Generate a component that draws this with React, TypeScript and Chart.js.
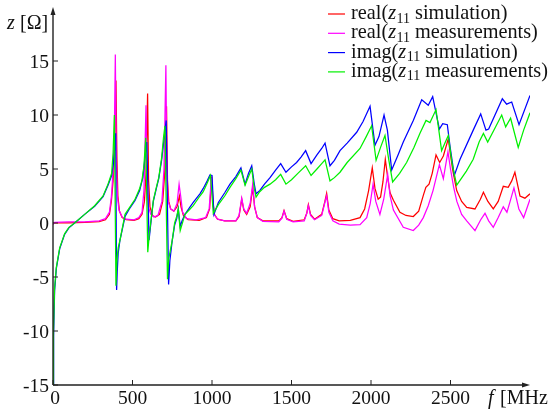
import React, { useEffect, useRef } from "react";
import { Chart, registerables } from "chart.js";

Chart.register(...registerables);

// ---- data (frequency in MHz, impedance in Ohm) ----
const realSimFreq = [0,100,200,290,330,355,367,378,388,396,402,408,418,435,460,510,540,560,575,585,595,601,610,625,645,670,690,702,714,720,728,740,760,780,795,805,820,850,920,965,985,998,1006,1015,1035,1080,1150,1170,1187,1200,1218,1240,1256,1268,1285,1320,1420,1440,1453,1470,1510,1580,1596,1606,1620,1645,1690,1710,1721,1735,1760,1800,1870,1931,1960,1985,2008,2025,2045,2060,2075,2090,2105,2120,2141,2182,2220,2266,2300,2330,2345,2365,2385,2409,2432,2455,2486,2500,2514,2539,2570,2602,2654,2688,2707,2735,2769,2800,2832,2863,2885,2905,2937,2968,3000];
const realSim = [0,0.02,0.05,0.12,0.3,0.8,2,3.9,6.5,13.2,6,2.5,1.1,0.5,0.3,0.25,0.4,0.8,2,4.5,12,4,1.5,0.7,0.55,0.8,2,4.5,10.8,4,2,1.3,1.1,1.5,2.5,1.5,0.7,0.3,0.25,0.5,1.3,4.3,2,0.8,0.35,0.2,0.2,0.6,2.2,1.2,0.8,1.5,3.3,1.5,0.5,0.2,0.2,0.5,1.15,0.4,0.15,0.3,0.9,1.7,0.8,0.35,0.8,2,2.75,1.2,0.4,0.2,0.25,0.5,1.3,3,5.1,3.2,2.2,2.4,3.8,5.9,4.2,2.8,2.1,1,0.7,0.6,1.1,2.6,3.3,3.6,4.6,6.3,5.6,6.2,7.8,6.3,4.9,3,2,1.45,1.3,2.2,2.85,2,1.3,2,3.4,3.3,3.9,4.7,2.5,2.3,2.7];

const realMeasFreq = [0,10,100,200,290,330,355,367,378,386,392,398,405,415,435,460,510,540,560,572,585,592,600,615,635,660,685,698,710,716,724,740,760,780,793,803,815,840,900,960,982,996,1004,1013,1035,1080,1150,1170,1187,1200,1218,1240,1256,1268,1285,1320,1420,1440,1453,1470,1510,1580,1596,1606,1620,1645,1690,1710,1721,1735,1760,1800,1870,1931,1973,1995,2013,2030,2056,2080,2105,2120,2141,2203,2266,2300,2329,2360,2390,2430,2455,2484,2500,2520,2540,2570,2602,2654,2690,2717,2740,2769,2800,2832,2855,2875,2899,2930,2960,3000];
const realMeas = [-0.15,0.05,0.1,0.1,0.2,0.4,1,2.4,4.8,8.5,15.6,6,2.5,1.2,0.55,0.35,0.3,0.5,1,3,10.9,3,1.5,0.8,0.55,0.7,2,5,14.6,5,2,1.3,1.1,1.8,3.6,2.5,1,0.4,0.3,0.5,1.3,4.2,2.3,0.8,0.35,0.2,0.2,0.7,2.3,1.3,0.9,1.8,3.6,1.5,0.5,0.15,0.1,0.45,1.1,0.35,0.1,0.2,0.9,1.6,0.7,0.3,0.7,1.9,2.5,1,0.2,-0.1,-0.2,-0.16,0.5,1.8,3.6,2,0.8,2.2,4.5,2.5,1.2,-0.4,-0.7,-0.2,0.5,1.6,3,5.4,4.1,6.6,5,3.3,2,0.8,0.2,-0.7,0.3,0.9,0.2,-0.4,0.5,1.5,1,2,3.25,1.3,0.5,2.2];

const imagSimFreq = [0,4,10,21,42,73,100,136,199,262,315,346,369,380,388,394,400,404,410,421,453,480,516,545,565,578,590,604,612,621,631,650,665,683,700,712,727,735,750,765,778,788,800,812,830,862,882,924,945,970,987,1000,1012,1040,1080,1113,1150,1182,1208,1230,1250,1266,1277,1300,1330,1365,1400,1432,1465,1500,1532,1560,1589,1623,1660,1690,1711,1742,1770,1805,1850,1910,1950,1994,2025,2050,2082,2103,2130,2170,2203,2266,2319,2360,2388,2430,2451,2480,2497,2524,2560,2643,2690,2723,2740,2826,2853,2885,2931,3000];
const imagSim = [-15,-10.5,-6.3,-4.2,-2.4,-1.05,-0.45,0,0.8,1.55,2.45,3.5,4.4,5.5,7,8.3,-6.2,-4.5,-2.8,-1.6,0.6,1.3,2.1,3,4.2,6,7.5,-1.6,-0.5,0.8,2,3.2,4.1,5.8,8,9.5,-5.7,-3.5,-1.6,-0.2,0.4,1.3,-0.3,0.2,0.8,1.5,1.9,2.7,3.2,3.9,4.45,4.4,0.8,1.9,2.8,3.6,4.3,5.1,3.6,4.6,5.3,3.6,2.7,3,3.6,4.2,4.9,5.5,4.7,5.2,5.6,6.1,6.7,5.5,6.3,6.9,7.4,5.3,5.8,6.7,7.4,8.4,9.4,10.8,7.2,8,10,8.6,4.9,6.3,7.5,9.5,11.4,10.9,11.7,8.7,9.2,9.1,7.1,4.4,5.9,8.6,10.1,8.6,8.7,11.5,11,11.2,9.1,11.8];

const imagMeasFreq = [0,3,10,21,42,73,100,136,199,262,315,346,369,378,386,396,402,410,421,453,480,516,545,560,572,583,596,606,621,631,650,665,683,695,704,720,728,750,765,778,788,800,812,830,862,882,924,945,970,990,998,1008,1040,1080,1113,1150,1182,1208,1230,1250,1266,1277,1300,1330,1365,1400,1432,1465,1500,1540,1589,1623,1660,1690,1711,1742,1770,1805,1850,1931,1970,2004,2032,2060,2088,2110,2136,2180,2224,2270,2308,2346,2371,2409,2444,2465,2486,2510,2539,2600,2643,2680,2707,2734,2780,2822,2847,2878,2926,2960,3000];
const imagMeas = [-15,-10,-6,-4.1,-2.3,-1,-0.4,0,0.8,1.6,2.5,3.6,4.6,6.5,10,-5.8,-3.5,-2.3,-1.6,0.8,1.4,2.2,3.2,4,5.3,7.9,-2.7,-1,0.8,2.1,3.3,4.2,6,7.9,9,-5.2,-3.3,-1.6,0,0.6,1.3,-0.7,-0.1,0.8,1.3,1.6,2.5,2.9,3.7,4.4,3,0.9,1.7,2.5,3.3,4.1,4.9,3.5,4.3,5,3.2,2.4,2.9,3.3,3.6,4,4.5,3.6,4,4.6,5.3,4.4,5,5.5,5.85,3.9,4.2,4.7,5.6,6.9,8,9,5.8,7,8.1,6,3.8,4.6,5.6,7,8.3,9.5,9.3,10.5,6.7,7.4,8.1,5.5,3.5,4.8,5.9,7.5,8.3,7.5,8.8,10,8.9,9.7,7,8.6,10.2];

const xTicks = [0, 500, 1000, 1500, 2000, 2500];
const yTicks = [-15, -10, -5, 0, 5, 10, 15];
const seriesNames = ["simulation", "measurements", "simulation", "measurements"];
const seriesPrefix = ["real(", "real(", "imag(", "imag("];
const seriesColors = ["#ff0000", "#ff00ff", "#0000ff", "#00f000"];

const FONT = "'Liberation Serif', 'Times New Roman', serif";

const toPoints = (xs: number[], ys: number[]) => xs.map((x, i) => ({ x, y: ys[i] }));

const axesPlugin = {
  id: "customAxes",
  afterDraw(chart: any) {
    const { ctx } = chart;
    const xs = chart.scales.x;
    const ys = chart.scales.y;
    const x0 = xs.getPixelForValue(0);
    const xEnd = xs.getPixelForValue(3000);
    const yb = ys.getPixelForValue(-15);
    const yTop = ys.getPixelForValue(20);
    ctx.save();
    ctx.strokeStyle = "#222";
    ctx.fillStyle = "#222";
    ctx.lineWidth = 1.4;
    ctx.beginPath();
    ctx.moveTo(x0, yb);
    ctx.lineTo(x0, yTop + 5);
    ctx.moveTo(x0, yb);
    ctx.lineTo(xEnd - 5, yb);
    ctx.stroke();
    ctx.beginPath();
    ctx.moveTo(x0, yTop);
    ctx.lineTo(x0 - 2.5, yTop + 8);
    ctx.lineTo(x0 + 2.5, yTop + 8);
    ctx.closePath();
    ctx.fill();
    ctx.beginPath();
    ctx.moveTo(xEnd, yb);
    ctx.lineTo(xEnd - 8, yb - 2.5);
    ctx.lineTo(xEnd - 8, yb + 2.5);
    ctx.closePath();
    ctx.fill();
    ctx.lineWidth = 1;
    ctx.beginPath();
    xTicks.forEach((t) => {
      const px = xs.getPixelForValue(t);
      ctx.moveTo(px, yb);
      ctx.lineTo(px, yb - 5);
    });
    yTicks.forEach((t) => {
      const py = ys.getPixelForValue(t);
      ctx.moveTo(x0, py);
      ctx.lineTo(x0 + 5, py);
    });
    ctx.stroke();
    ctx.fillStyle = "#111";
    ctx.font = `19.5px ${FONT}`;
    ctx.textBaseline = "alphabetic";
    ctx.textAlign = "center";
    xTicks.forEach((t) => {
      const px = xs.getPixelForValue(t);
      ctx.fillText(String(t), px + (t === 0 ? 2 : 0), yb + 19);
    });
    ctx.textAlign = "right";
    yTicks.forEach((t) => {
      const py = ys.getPixelForValue(t);
      ctx.fillText(String(t), x0 - 4, py + 7);
    });
    ctx.textAlign = "left";
    ctx.font = `italic 20px ${FONT}`;
    ctx.fillText("z", 7, 29);
    ctx.font = `20px ${FONT}`;
    ctx.fillText("[Ω]", 20, 29);
    ctx.font = `italic 20px ${FONT}`;
    ctx.fillText("f", 488, yb + 19);
    ctx.font = `20px ${FONT}`;
    ctx.fillText("[MHz]", 500, yb + 19);
    const lx0 = 328, lx1 = 345, tx = 351;
    for (let i = 0; i < 4; i++) {
      const ly = 14 + i * 19.3;
      ctx.strokeStyle = seriesColors[i];
      ctx.lineWidth = 1.2;
      ctx.beginPath();
      ctx.moveTo(lx0, ly);
      ctx.lineTo(lx1, ly);
      ctx.stroke();
      const base = ly + 5;
      let cx = tx;
      ctx.fillStyle = "#111";
      ctx.font = `20.3px ${FONT}`;
      ctx.fillText(seriesPrefix[i], cx, base);
      cx += ctx.measureText(seriesPrefix[i]).width;
      ctx.font = `italic 20.3px ${FONT}`;
      ctx.fillText("z", cx, base);
      cx += ctx.measureText("z").width + 0.5;
      ctx.font = `14px ${FONT}`;
      ctx.fillText("11", cx, base + 3.5);
      cx += ctx.measureText("11").width;
      ctx.font = `20.3px ${FONT}`;
      ctx.fillText(" " + seriesNames[i] + ")", cx, base);
    }
    ctx.restore();
  },
};

export default function App() {
  const ref = useRef<HTMLCanvasElement | null>(null);
  useEffect(() => {
    if (!ref.current) return;
    const mk = (label: string, xs: number[], ys: number[], color: string, order: number) => ({
      label,
      data: toPoints(xs, ys),
      borderColor: color,
      backgroundColor: color,
      borderWidth: 1.25,
      pointRadius: 0,
      tension: 0,
      fill: false,
      order,
    });
    const chart = new Chart(ref.current, {
      type: "line",
      data: {
        datasets: [
          mk("real(z11 simulation)", realSimFreq, realSim, seriesColors[0], 4),
          mk("real(z11 measurements)", realMeasFreq, realMeas, seriesColors[1], 3),
          mk("imag(z11 simulation)", imagSimFreq, imagSim, seriesColors[2], 2),
          mk("imag(z11 measurements)", imagMeasFreq, imagMeas, seriesColors[3], 1),
        ],
      },
      options: {
        responsive: false,
        animation: false,
        layout: { padding: { left: 53, right: 18, top: 7, bottom: 29 } },
        plugins: { legend: { display: false }, tooltip: { enabled: false } },
        scales: {
          x: { type: "linear", min: 0, max: 3000, display: false },
          y: { type: "linear", min: -15, max: 20, display: false },
        },
      },
      plugins: [axesPlugin],
    });
    return () => chart.destroy();
  }, []);
  return (
    <div style={{ position: "absolute", left: 0, top: 0, width: 548, height: 414, background: "#fff" }}>
      <canvas ref={ref} width={548} height={414} style={{ width: 548, height: 414, display: "block" }} />
    </div>
  );
}
